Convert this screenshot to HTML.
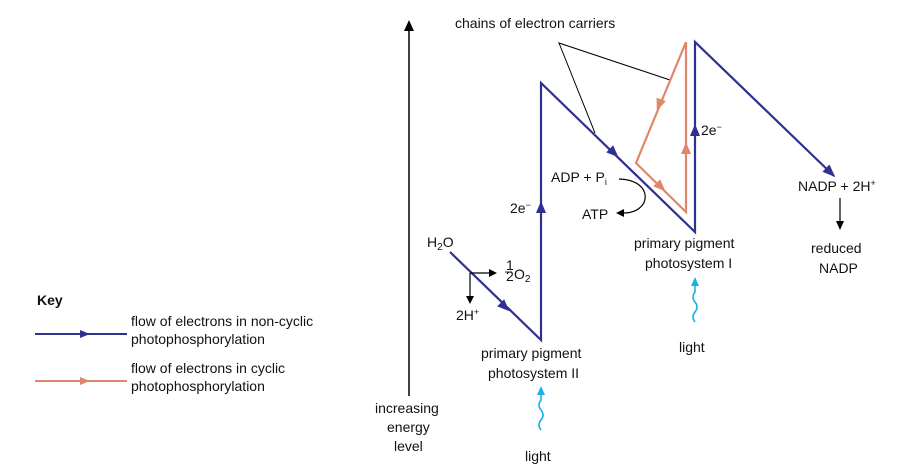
<!DOCTYPE html>
<html><head><style>
html,body{margin:0;padding:0;background:#fff}
svg{display:block}
text{font-family:"Liberation Sans",sans-serif;font-size:14px;fill:#111}
</style></head><body>
<svg width="904" height="467" viewBox="0 0 904 467">
<!-- energy axis -->
<line x1="409" y1="30" x2="409" y2="396" stroke="#000" stroke-width="1.5"/>
<path d="M404,31 L409,20 L414,31 z" fill="#000"/>
<text x="375" y="413">increasing</text>
<text x="387" y="432">energy</text>
<text x="394" y="451">level</text>

<!-- chains label -->
<text x="455" y="28">chains of electron carriers</text>
<polyline points="595,133 559,43 670,80" fill="none" stroke="#000" stroke-width="1"/>

<!-- orange cyclic -->
<polyline points="686,42 636,163 686,212 686,42" fill="none" stroke="#e0866a" stroke-width="2.2"/>
<path d="M-6,-5 L6,0 L-6,5 z" fill="#e0866a" transform="translate(659,105) rotate(112)"/>
<path d="M-6,-5 L6,0 L-6,5 z" fill="#e0866a" transform="translate(661,187) rotate(44)"/>
<path d="M-6,-5 L6,0 L-6,5 z" fill="#e0866a" transform="translate(686,148) rotate(-90)"/>

<!-- blue non-cyclic -->
<polyline points="450,252 541,340 541,83 695,232 695,42 834,176" fill="none" stroke="#2e3192" stroke-width="2.2"/>
<path d="M-6,-5 L6,0 L-6,5 z" fill="#2e3192" transform="translate(505,307) rotate(44)"/>
<path d="M-6,-5 L6,0 L-6,5 z" fill="#2e3192" transform="translate(541,207) rotate(-90)"/>
<path d="M-6,-5 L6,0 L-6,5 z" fill="#2e3192" transform="translate(614,153) rotate(44)"/>
<path d="M-6,-5 L6,0 L-6,5 z" fill="#2e3192" transform="translate(695,130) rotate(-90)"/>
<path d="M-7,-5 L6,0 L-7,5 z" fill="#2e3192" transform="translate(831,173) rotate(44)"/>

<!-- labels -->
<text x="427" y="247">H<tspan font-size="10" dy="3">2</tspan><tspan dy="-3">O</tspan></text>
<line x1="470" y1="273" x2="490" y2="273" stroke="#000" stroke-width="1.2"/>
<path d="M489,269 L497,273 L489,277 z" fill="#000"/>
<line x1="470" y1="273" x2="470" y2="297" stroke="#000" stroke-width="1.2"/>
<path d="M466,296 L470,304 L474,296 z" fill="#000"/>
<text x="506" y="270" font-size="9">1</text>
<line x1="505" y1="272" x2="512" y2="272" stroke="#000" stroke-width="0.8"/>
<text x="506" y="281" font-size="9">2</text>
<text x="514" y="279">O<tspan font-size="10" dy="3">2</tspan></text>
<text x="456" y="320">2H<tspan font-size="9" dy="-5">+</tspan></text>
<text x="510" y="213">2e<tspan font-size="9" dy="-5">−</tspan></text>
<text x="701" y="135">2e<tspan font-size="9" dy="-5">−</tspan></text>

<text x="551" y="182">ADP + P<tspan font-size="9" dy="3">i</tspan></text>
<path d="M619,179 C655,180 652,214 622,213" fill="none" stroke="#000" stroke-width="1.2"/>
<path d="M624,209 L616,213 L624,217 z" fill="#000"/>
<text x="582" y="219">ATP</text>

<text x="634" y="248">primary pigment</text>
<text x="645" y="268">photosystem I</text>
<text x="481" y="358">primary pigment</text>
<text x="488" y="378">photosystem II</text>

<text x="798" y="191">NADP + 2H<tspan font-size="9" dy="-5">+</tspan></text>
<line x1="840" y1="198" x2="840" y2="222" stroke="#000" stroke-width="1.2"/>
<path d="M836,221 L840,230 L844,221 z" fill="#000"/>
<text x="811" y="253">reduced</text>
<text x="819" y="273">NADP</text>

<!-- light -->
<path d="M695,322 q-4,-5 0,-10 q4,-5 0,-10 q-4,-5 0,-10 L695,284" fill="none" stroke="#1ab0e8" stroke-width="1.6"/>
<path d="M691,286 L695,277 L699,286 z" fill="#1ab0e8"/>
<text x="679" y="352">light</text>
<path d="M541,430 q-4,-5 0,-10 q4,-5 0,-10 q-4,-5 0,-10 L541,393" fill="none" stroke="#1ab0e8" stroke-width="1.6"/>
<path d="M537,395 L541,386 L545,395 z" fill="#1ab0e8"/>
<text x="525" y="461">light</text>

<!-- key -->
<text x="37" y="305" font-weight="bold">Key</text>
<line x1="35" y1="334" x2="127" y2="334" stroke="#2e3192" stroke-width="2"/>
<path d="M80,330 L90,334 L80,338 z" fill="#2e3192"/>
<text x="131" y="326">flow of electrons in non-cyclic</text>
<text x="131" y="344">photophosphorylation</text>
<line x1="35" y1="381" x2="127" y2="381" stroke="#e0866a" stroke-width="2"/>
<path d="M80,377 L90,381 L80,385 z" fill="#e0866a"/>
<text x="131" y="373">flow of electrons in cyclic</text>
<text x="131" y="391">photophosphorylation</text>
</svg>
</body></html>
